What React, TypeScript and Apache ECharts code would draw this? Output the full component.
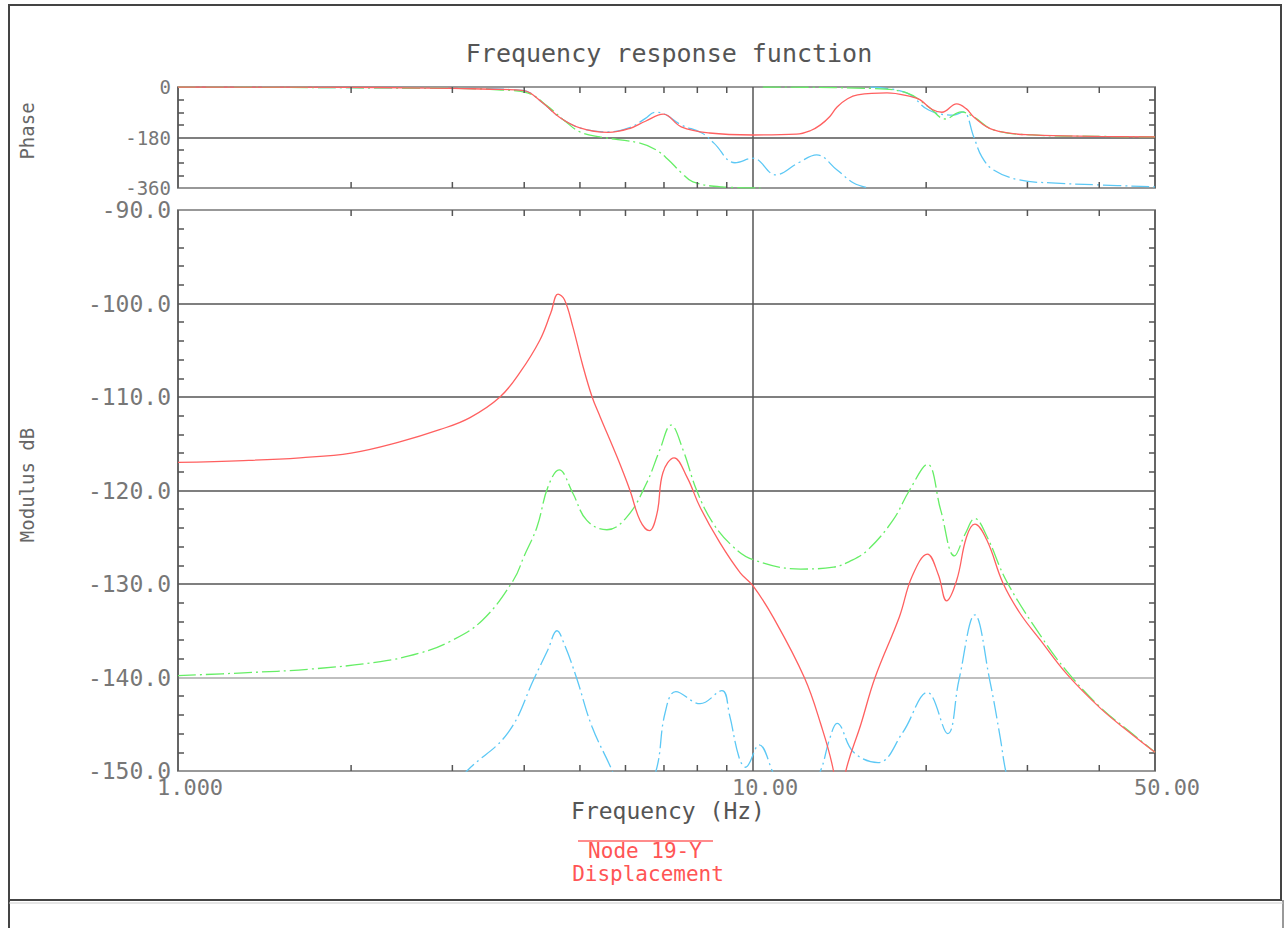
import React, { useEffect, useRef } from "react";
import * as echarts from "echarts";

// ---- data (frequency in Hz, value) ----
const FREQ_MINOR_TICKS = [2, 3, 4, 5, 6, 7, 8, 9, 20, 30, 40];

const RED_MOD = [
  [1.0, -117.0], [1.3, -116.8], [1.63, -116.5], [2.0, -116.0], [2.43, -114.8], [2.85, -113.5],
  [3.22, -112.2], [3.63, -110.0], [3.93, -107.4], [4.26, -103.9], [4.45, -101.0], [4.58, -99.0],
  [4.7, -99.6], [4.86, -102.5], [5.05, -106.5], [5.25, -110.0], [5.42, -112.1], [5.8, -116.4],
  [6.11, -120.0], [6.36, -123.2], [6.6, -124.3], [6.81, -122.4], [6.97, -118.1], [7.29, -116.5],
  [7.68, -118.6], [8.09, -121.8], [8.76, -125.6], [9.5, -128.8], [10.0, -130.2], [10.85, -133.6],
  [12.28, -140.0], [13.1, -144.9], [13.8, -150.0], [14.1, -155.0], [14.5, -150.0], [15.4, -145.0],
  [16.3, -140.0], [17.97, -133.5], [18.9, -129.2], [20.1, -126.8], [21.0, -129.0], [21.7, -131.8],
  [22.6, -129.6], [23.5, -125.0], [24.3, -123.6], [25.5, -125.3], [27.2, -129.9], [29.1, -133.1],
  [31.6, -136.0], [35.2, -139.7], [40.2, -143.3], [45.0, -145.8], [50.0, -148.0],
];

const GREEN_MOD = [
  [1.0, -139.8], [1.3, -139.5], [1.7, -139.1], [2.25, -138.3], [2.63, -137.4], [2.96, -136.2],
  [3.38, -133.9], [3.83, -129.6], [4.0, -127.0], [4.21, -123.9], [4.4, -119.6], [4.6, -117.8],
  [4.86, -120.3], [5.14, -123.2], [5.57, -124.2], [6.04, -122.8], [6.53, -119.2], [6.88, -115.7],
  [7.2, -113.0], [7.56, -115.7], [7.98, -120.0], [8.52, -123.5], [9.23, -126.0], [10.0, -127.4],
  [12.1, -128.4], [13.8, -128.2], [14.7, -127.6], [15.8, -126.4], [17.5, -123.2], [18.7, -120.0],
  [20.1, -117.2], [21.2, -122.1], [22.4, -127.0], [23.4, -124.6], [24.3, -123.0], [25.5, -124.9],
  [27.6, -129.7], [31.6, -135.5], [35.2, -139.4], [40.2, -143.2], [45.0, -145.7], [50.0, -148.0],
];

const BLUE_MOD = [
  [2.9, -153.0], [3.18, -150.0], [3.75, -145.9], [4.17, -140.0], [4.4, -137.0], [4.56, -135.0],
  [4.7, -136.5], [4.93, -140.0], [5.25, -145.3], [5.69, -150.0], [6.2, -156.0], [6.78, -150.0],
  [7.03, -143.8], [7.34, -141.5], [8.09, -142.8], [8.83, -141.4], [9.1, -144.0], [9.45, -148.5],
  [9.7, -149.6], [10.25, -147.2], [10.8, -150.0], [11.8, -156.0], [13.1, -150.0], [13.6, -146.5],
  [14.0, -144.9], [14.96, -148.0], [16.5, -149.1], [18.2, -145.9], [20.1, -141.6], [21.8, -146.0],
  [22.8, -140.3], [24.3, -133.3], [25.8, -140.3], [26.9, -146.4], [27.5, -150.0], [29.0, -156.0],
];

const RED_PHASE = [
  [1.0, 0], [2.0, -1], [2.5, -3], [3.0, -5], [3.5, -8], [3.97, -12], [4.31, -57], [4.6, -107],
  [5.0, -146], [5.6, -162], [6.1, -148], [6.5, -122], [6.98, -97], [7.5, -142], [8.4, -164],
  [10.0, -171], [11.9, -168], [12.6, -155], [13.1, -135], [13.6, -105], [14.0, -71], [14.6, -42],
  [15.2, -28], [17.1, -21], [18.9, -35], [19.5, -45], [20.5, -80], [21.3, -90], [22.6, -60],
  [23.5, -78], [24.2, -107], [26.2, -153], [30.6, -171], [40.0, -176], [50.0, -178],
];

const GREEN_PHASE = [
  [1.0, 0], [3.0, -5], [3.6, -10], [4.05, -21], [4.4, -70], [4.7, -120], [5.0, -160], [5.42, -178],
  [6.36, -200], [6.78, -224], [7.13, -260], [7.5, -305], [7.86, -338], [8.83, -356], [10.3, -360],
  [10.35, null], [10.4, 0], [15.9, -5], [18.5, -21], [20.2, -71], [21.6, -114], [23.0, -89],
  [24.2, -107], [26.2, -153], [30.6, -171], [40.0, -176], [50.0, -178],
];

const BLUE_PHASE = [
  [1.0, 0], [3.0, -5], [3.97, -12], [4.31, -57], [4.6, -107], [5.0, -146], [5.6, -160], [6.1, -145],
  [6.5, -112], [6.75, -90], [7.0, -95], [7.5, -135], [8.15, -164], [8.55, -200], [9.3, -270],
  [10.0, -254], [10.95, -313], [12.0, -270], [12.9, -242], [14.0, -296], [14.96, -342], [15.9, -360],
  [15.95, null], [16.0, 0], [18.5, -21], [20.2, -82], [22.3, -100], [23.2, -89], [24.2, -178],
  [25.0, -249], [26.2, -296], [29.0, -331], [33.0, -342], [40.0, -349], [50.0, -356],
];

const TITLE = "Frequency response function";
const X_NAME = "Frequency (Hz)";
const PHASE_NAME = "Phase";
const MOD_NAME = "Modulus dB";
const NODE_LABEL = "Node 19-Y";
const QTY_LABEL = "Displacement";

const RED = "#ff6060";
const GREEN = "#66ee66";
const BLUE = "#5cc8f5";
const FONT = "DejaVu Sans Mono";
const DASHDOT = [18, 4, 2, 4];

export default function App() {
  const ref = useRef<HTMLDivElement>(null);

  useEffect(() => {
    if (!ref.current) return;
    const chart = echarts.init(ref.current, undefined, { renderer: "svg" });

    const tickSeries = (gi: number, yAxisIndex: number, yRef: number) => ({
      type: "custom",
      xAxisIndex: gi,
      yAxisIndex,
      silent: true,
      clip: false,
      z: 5,
      data: FREQ_MINOR_TICKS.map((f) => [f, yRef]),
      renderItem: (params: any, api: any) => {
        const cs = params.coordSys;
        const x = api.coord([api.value(0), yRef])[0];
        const len = 6;
        const st = { stroke: "#555", lineWidth: 1.5 };
        return {
          type: "group",
          children: [
            { type: "line", shape: { x1: x, y1: cs.y, x2: x, y2: cs.y + len }, style: st },
            { type: "line", shape: { x1: x, y1: cs.y + cs.height, x2: x, y2: cs.y + cs.height - len }, style: st },
          ],
        };
      },
    });

    const xAxisBase = (showLabel: boolean) => ({
      type: "log",
      logBase: 10,
      min: 1,
      max: 50,
      axisLine: { show: false },
      axisTick: { show: false },
      minorTick: { show: false },
      splitLine: { show: true, lineStyle: { color: "#555", width: 1.5 } },
      axisLabel: showLabel
        ? {
            show: true,
            fontFamily: FONT,
            fontSize: 22,
            lineHeight: 20,
            color: "#777",
            margin: 6,
            padding: [0, 0, 0, 24],
            formatter: (v: number) => Number(v).toPrecision(4),
          }
        : { show: false },
    });

    const yAxisPair = (gi: number, min: number, max: number, interval: number, minorSplit: number, fmt: (v: number) => string, splitColors: string[], fs: number) => [
      {
        type: "value",
        gridIndex: gi,
        min,
        max,
        interval,
        position: "left",
        axisLine: { show: false },
        axisTick: { show: true, inside: true, length: 0, lineStyle: { color: "#555" } },
        minorTick: { show: true, splitNumber: minorSplit, length: 6, lineStyle: { color: "#555", width: 1.5 } },
        splitLine: { show: true, lineStyle: { color: splitColors, width: 1.5 } },
        axisLabel: { show: true, fontFamily: FONT, fontSize: fs, lineHeight: fs - 2, color: "#777", margin: 7, formatter: fmt },
      },
      {
        type: "value",
        gridIndex: gi,
        min,
        max,
        interval,
        position: "right",
        axisLine: { show: false },
        axisTick: { show: true, inside: true, length: 0, lineStyle: { color: "#555" } },
        minorTick: { show: true, splitNumber: minorSplit, length: 6, lineStyle: { color: "#555", width: 1.5 } },
        splitLine: { show: false },
        axisLabel: { show: false },
      },
    ];

    const line = (data: any[], color: string, xi: number, yi: number, dashed: boolean, z: number) => ({
      type: "line",
      xAxisIndex: xi,
      yAxisIndex: yi,
      data,
      smooth: 0.4,
      showSymbol: false,
      symbol: "none",
      connectNulls: false,
      z,
      lineStyle: { color, width: 1.3, type: dashed ? DASHDOT : "solid" },
    });

    const option: any = {
      animation: false,
      backgroundColor: "#ffffff",
      grid: [
        { left: 178, top: 87, width: 977, height: 101, show: true, borderColor: "#999", borderWidth: 2, backgroundColor: "transparent" },
        { left: 178, top: 210, width: 977, height: 561, show: true, borderColor: "#999", borderWidth: 2, backgroundColor: "transparent" },
      ],
      xAxis: [
        { ...xAxisBase(false), gridIndex: 0 },
        { ...xAxisBase(true), gridIndex: 1 },
      ],
      yAxis: [
        ...yAxisPair(0, -360, 0, 180, 4, (v: number) => String(v), ["#999", "#555", "#999"], 19),
        ...yAxisPair(1, -150, -90, 10, 5, (v: number) => Number(v).toFixed(1), ["#999", "#aaa", "#555", "#555", "#555", "#555", "#999"], 23),
      ],
      series: [
        line(RED_PHASE, RED, 0, 0, false, 3),
        line(BLUE_PHASE, BLUE, 0, 0, true, 2),
        line(GREEN_PHASE, GREEN, 0, 0, true, 2),
        line(RED_MOD, RED, 1, 2, false, 3),
        line(GREEN_MOD, GREEN, 1, 2, true, 2),
        line(BLUE_MOD, BLUE, 1, 2, true, 2),
        tickSeries(0, 0, -180),
        tickSeries(1, 2, -120),
      ],
      graphic: [
        { type: "rect", shape: { x: 9, y: 5, width: 1272, height: 895 }, style: { fill: "none", stroke: "#444", lineWidth: 2 }, silent: true },
        { type: "line", shape: { x1: 9, y1: 900, x2: 9, y2: 928 }, style: { stroke: "#444", lineWidth: 2 }, silent: true },
        { type: "line", shape: { x1: 1283, y1: 900, x2: 1283, y2: 928 }, style: { stroke: "#999", lineWidth: 2 }, silent: true },
        { type: "line", shape: { x1: 9, y1: 903, x2: 1283, y2: 903 }, style: { stroke: "#ccc", lineWidth: 1 }, silent: true },
        {
          type: "text", x: 669, y: 53,
          style: { text: TITLE, fontFamily: FONT, fontSize: 25, fill: "#555", textAlign: "center", textVerticalAlign: "middle" },
        },
        {
          type: "text", x: 668, y: 811,
          style: { text: X_NAME, fontFamily: FONT, fontSize: 23, lineHeight: 21, fill: "#555", textAlign: "center", textVerticalAlign: "middle" },
        },
        {
          type: "text", x: 27, y: 131, rotation: Math.PI / 2,
          style: { text: PHASE_NAME, fontFamily: FONT, fontSize: 19, fill: "#666", textAlign: "center", textVerticalAlign: "middle" },
        },
        {
          type: "text", x: 27, y: 485, rotation: Math.PI / 2,
          style: { text: MOD_NAME, fontFamily: FONT, fontSize: 19, fill: "#666", textAlign: "center", textVerticalAlign: "middle" },
        },
        { type: "line", shape: { x1: 578, y1: 841, x2: 713, y2: 841 }, style: { stroke: "#ff6666", lineWidth: 1.5 }, silent: true },
        {
          type: "text", x: 645, y: 851,
          style: { text: NODE_LABEL, fontFamily: FONT, fontSize: 21, lineHeight: 18, fill: "#ff5555", textAlign: "center", textVerticalAlign: "middle" },
        },
        {
          type: "text", x: 648, y: 874,
          style: { text: QTY_LABEL, fontFamily: FONT, fontSize: 21, lineHeight: 18, fill: "#ff5555", textAlign: "center", textVerticalAlign: "middle" },
        },
      ],
    };

    chart.setOption(option);
    return () => chart.dispose();
  }, []);

  return (
    <div
      ref={ref}
      style={{ position: "absolute", left: 0, top: 0, width: 1285, height: 928, background: "#fff" }}
    />
  );
}
